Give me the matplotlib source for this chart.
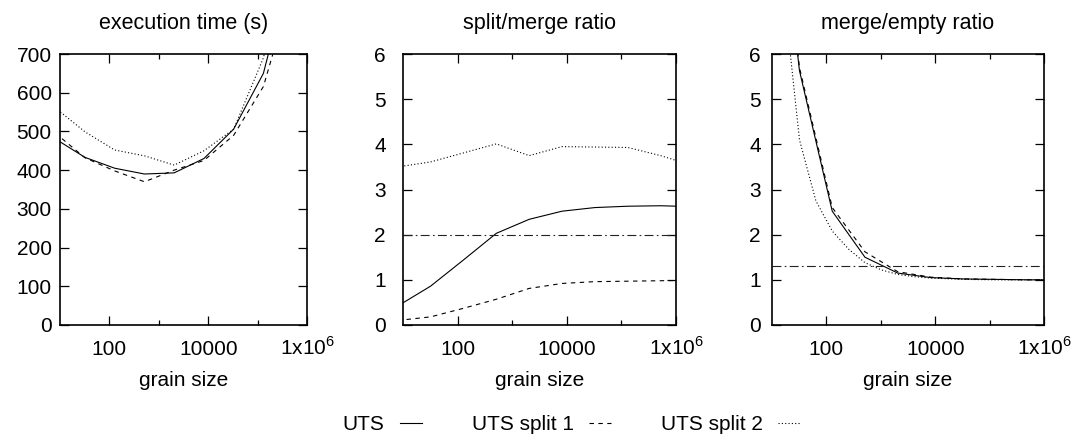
import numpy as np
import matplotlib
matplotlib.use("Agg")
import matplotlib.pyplot as plt
from matplotlib.ticker import FixedLocator, NullFormatter

# ------------------------------------------------------------
# data (grain size on a log axis)
# ------------------------------------------------------------
grain = [8, 32, 128, 512, 2048, 8192, 32768, 131072, 524288, 2097152]

time_uts = [481, 433, 405, 390, 393, 430, 506, 650, 950, 1500]
time_split1 = [496, 432, 398, 370, 400, 425, 490, 616, 880, 1400]
time_split2 = [561, 499, 452, 437, 413, 450, 506, 690, 1000, 1600]

sm_uts = [0.42, 0.86, 1.44, 2.03, 2.34, 2.52, 2.60, 2.63, 2.64, 2.62]
sm_split1 = [0.10, 0.18, 0.37, 0.57, 0.81, 0.92, 0.96, 0.97, 0.98, 0.99]
sm_split2 = [3.50, 3.61, 3.81, 4.01, 3.75, 3.95, 3.94, 3.93, 3.75, 3.52]
sm_ref = 2.0

me_uts = [12.0, 5.63, 2.52, 1.50, 1.15, 1.05, 1.02, 1.01, 1.0, 1.0]
me_split1 = [12.2, 5.70, 2.60, 1.62, 1.18, 1.06, 1.02, 1.01, 1.0, 1.0]
# split 2 has finer sampling in this panel
grain_fine = [16, 32, 64, 128, 256, 512, 1024, 2048, 4096, 8192, 32768, 131072, 524288, 2097152]
me_split2 = [7.5, 4.1, 2.75, 2.08, 1.68, 1.38, 1.22, 1.12, 1.07, 1.04, 1.01, 1.0, 1.0, 1.0]
me_ref = 1.3

labels = ["UTS", "UTS split 1", "UTS split 2"]

# ------------------------------------------------------------
# style
# ------------------------------------------------------------
plt.rcParams['font.family'] = ['Liberation Sans', 'DejaVu Sans']
plt.rcParams['mathtext.fontset'] = 'custom'
plt.rcParams['mathtext.rm'] = 'Liberation Sans'
plt.rcParams['font.size'] = 15

W, H = 1078, 445
fig = plt.figure(figsize=(W / 100, H / 100), dpi=100)

boxes = [(60, 307), (403, 676), (772, 1044)]
ypads = [6, 12.5, 8]
top, bottom = 54, 325

lw = 0.8
st_solid = dict(color='black', lw=lw, linestyle='-')
st_dash = dict(color='black', lw=lw, linestyle=(0, (4, 4)))
st_dot = dict(color='black', lw=lw, linestyle=(0, (1, 2)))
st_ref = dict(color='#222222', lw=lw, linestyle=(0, (8, 3, 1.5, 3)))

axes = []
for (x0, x1), yp in zip(boxes, ypads):
    ax = fig.add_axes([x0 / W, (H - bottom) / H, (x1 - x0) / W, (bottom - top) / H])
    ax.set_xscale('log')
    ax.set_xlim(10, 1e6)
    ax.xaxis.set_major_locator(FixedLocator([1e2, 1e4, 1e6]))
    ax.xaxis.set_minor_locator(FixedLocator([1e3, 1e5]))
    ax.xaxis.set_minor_formatter(NullFormatter())
    ax.set_xticklabels(['100', '10000', r'1x10$^{6}$'])
    ax.tick_params(which='both', direction='in', top=True, right=True, width=0.9)
    ax.tick_params(which='major', length=6.5)
    ax.tick_params(which='minor', length=3.5)
    ax.tick_params(axis='x', which='major', pad=21.5)
    ax.tick_params(axis='y', which='major', pad=yp)
    for s in ax.spines.values():
        s.set_linewidth(1.2)
    ax.set_xlabel('grain size', labelpad=9)
    axes.append(ax)

ax1, ax2, ax3 = axes

# execution time
ax1.plot(grain, time_uts, **st_solid)
ax1.plot(grain, time_split1, **st_dash)
ax1.plot(grain, time_split2, **st_dot)
ax1.set_ylim(0, 700)
ax1.set_yticks(np.arange(0, 701, 100))
ax1.set_title('execution time (s)', pad=18, fontsize=15.5)

# split/merge ratio
ax2.plot(grain, sm_uts, **st_solid)
ax2.plot(grain, sm_split1, **st_dash)
ax2.plot(grain, sm_split2, **st_dot)
ax2.axhline(sm_ref, **st_ref)
ax2.set_ylim(0, 6)
ax2.set_yticks(range(0, 7))
ax2.set_title('split/merge ratio', pad=18, fontsize=15.5)

# merge/empty ratio
ax3.plot(grain, me_uts, **st_solid)
ax3.plot(grain, me_split1, **st_dash)
ax3.plot(grain_fine, me_split2, **st_dot)
ax3.axhline(me_ref, **st_ref)
ax3.set_ylim(0, 6)
ax3.set_yticks(range(0, 7))
ax3.set_title('merge/empty ratio', pad=18, fontsize=15.5)

# x tick labels share one baseline like the original
for ax in axes:
    for t in ax.xaxis.get_major_ticks():
        t.label1.set_verticalalignment('baseline')

handles = ax1.get_lines()
fig.legend(handles, labels, ncol=3, loc='center', bbox_to_anchor=(0.530, 0.045),
           frameon=False, markerfirst=False, handlelength=1.06, handletextpad=0.72,
           columnspacing=2.4)

fig.savefig('out.png', dpi=100)
